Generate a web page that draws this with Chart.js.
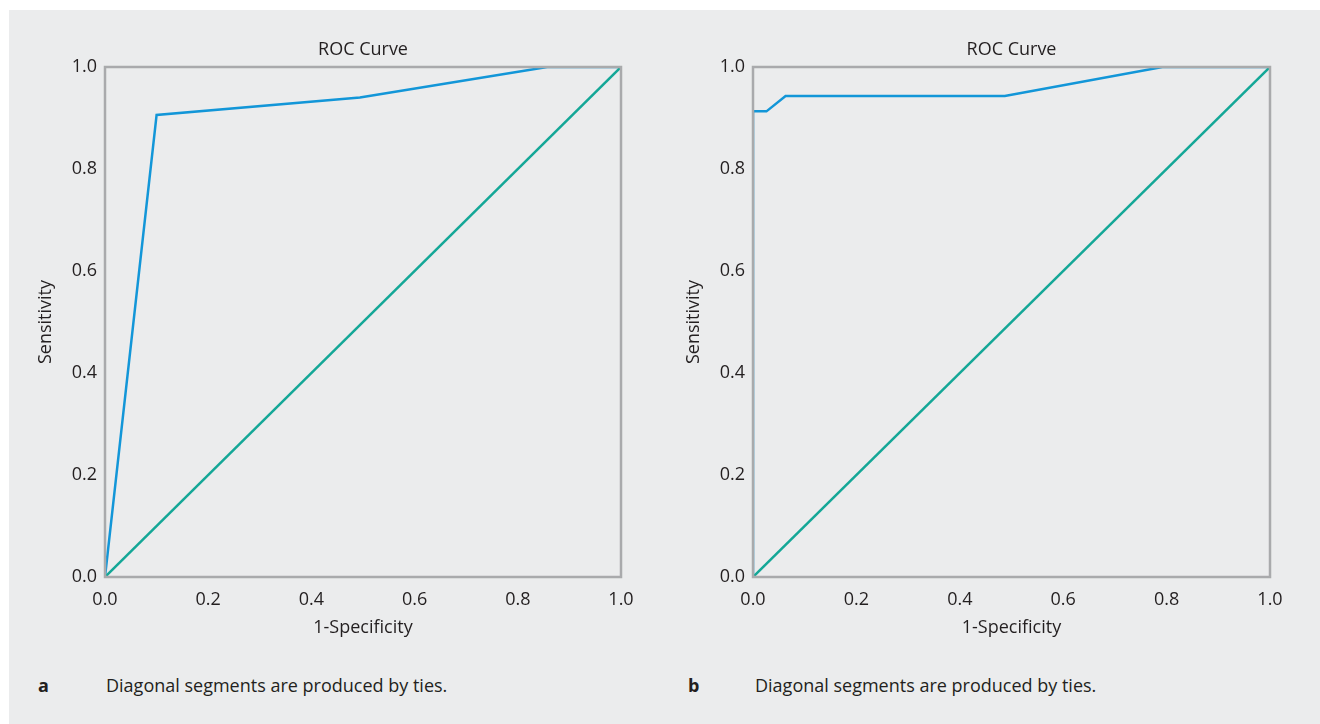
<!DOCTYPE html>
<html lang="en">
<head>
    <meta charset="UTF-8">
    <title>ROC Curves</title>
    <script src="https://cdn.jsdelivr.net/npm/chart.js"></script>
    <style>
        html, body {
            margin: 0;
            padding: 0;
            background: #ffffff;
            font-family: "Open Sans", sans-serif;
        }
        .panel {
            position: absolute;
            left: 9px;
            top: 10px;
            width: 1311px;
            height: 714px;
            background: #ebeced;
        }
        .chart-box {
            position: absolute;
            top: 0;
            width: 660px;
            height: 660px;
        }
        .caption {
            position: absolute;
            top: 673px;
            font-size: 18px;
            line-height: 24px;
            color: #231f20;
            white-space: nowrap;
        }
        .caption.letter {
            font-weight: bold;
        }
    </style>
</head>
<body>
    <div class="panel"></div>
    <div class="chart-box" style="left:0px;"><canvas id="rocA"></canvas></div>
    <div class="chart-box" style="left:648px;"><canvas id="rocB"></canvas></div>

    <div class="caption letter" style="left:38px;">a</div>
    <div class="caption" style="left:106px;">Diagonal segments are produced by ties.</div>
    <div class="caption letter" style="left:688px;">b</div>
    <div class="caption" style="left:755px;">Diagonal segments are produced by ties.</div>

    <script>
        // 刻度標籤 (兩軸共用)
        const tickLabels = ["0.0", "0.2", "0.4", "0.6", "0.8", "1.0"];

        // 圖 a 的 ROC 曲線
        const rocA_fpr = [0, 0.100, 0.494, 0.857, 1.0];
        const rocA_tpr = [0, 0.906, 0.940, 1.0, 1.0];

        // 圖 b 的 ROC 曲線
        const rocB_fpr = [0, 0, 0.026, 0.063, 0.487, 0.792, 1.0];
        const rocB_tpr = [0, 0.913, 0.913, 0.943, 0.943, 1.0, 1.0];

        // 參考對角線
        const diagX = [0, 1];
        const diagY = [0, 1];

        const textColor = "#231f20";
        const font18 = { family: "'Open Sans', sans-serif", size: 18 };

        function toPoints(xs, ys) {
            return xs.map((x, i) => ({ x: x, y: ys[i] }));
        }

        // 畫出外框 (蓋在線上面)
        const framePlugin = {
            id: "frame",
            afterDatasetsDraw(chart) {
                const { ctx, chartArea } = chart;
                ctx.save();
                ctx.strokeStyle = "#a9aaac";
                ctx.lineWidth = 2.5;
                ctx.strokeRect(chartArea.left, chartArea.top,
                    chartArea.right - chartArea.left, chartArea.bottom - chartArea.top);
                ctx.restore();
            }
        };

        function makeChart(id, xs, ys, rightPad) {
            const ctx = document.getElementById(id).getContext("2d");
            return new Chart(ctx, {
                type: "scatter",
                data: {
                    datasets: [
                        {
                            data: toPoints(diagX, diagY),
                            showLine: true,
                            borderColor: "#14a797",
                            borderWidth: 2.5,
                            pointRadius: 0,
                            tension: 0
                        },
                        {
                            data: toPoints(xs, ys),
                            showLine: true,
                            borderColor: "#1296d8",
                            borderWidth: 2.5,
                            pointRadius: 0,
                            tension: 0
                        }
                    ]
                },
                options: {
                    responsive: true,
                    maintainAspectRatio: false,
                    animation: false,
                    events: [],
                    layout: {
                        padding: { left: 0, right: rightPad, top: 0, bottom: 0 }
                    },
                    plugins: {
                        legend: { display: false },
                        tooltip: { enabled: false },
                        title: {
                            display: true,
                            text: "ROC Curve",
                            fullSize: false,
                            color: textColor,
                            font: { family: font18.family, size: 18, weight: "normal" },
                            padding: { top: 39, bottom: 6.4 }
                        }
                    },
                    scales: {
                        x: {
                            type: "linear",
                            min: 0,
                            max: 1,
                            grid: { display: false, drawTicks: false },
                            border: { display: false },
                            ticks: {
                                stepSize: 0.2,
                                padding: 12,
                                color: textColor,
                                font: font18,
                                maxRotation: 0,
                                callback: (value, index) => tickLabels[index]
                            },
                            title: {
                                display: true,
                                text: "1-Specificity",
                                color: textColor,
                                font: font18,
                                padding: { top: 0, bottom: 21 }
                            },
                            afterFit: (scale) => { scale.height = 83; }
                        },
                        y: {
                            type: "linear",
                            min: 0,
                            max: 1,
                            grid: { display: false, drawTicks: false },
                            border: { display: false },
                            ticks: {
                                stepSize: 0.2,
                                padding: 8,
                                color: textColor,
                                font: font18,
                                callback: (value, index) => tickLabels[index]
                            },
                            title: {
                                display: true,
                                text: "Sensitivity",
                                color: textColor,
                                font: font18,
                                padding: { top: 35, bottom: 0 }
                            },
                            afterFit: (scale) => { scale.width = 105; }
                        }
                    }
                },
                plugins: [framePlugin]
            });
        }

        makeChart("rocA", rocA_fpr, rocA_tpr, 39);
        makeChart("rocB", rocB_fpr, rocB_tpr, 38);
    </script>
</body>
</html>
